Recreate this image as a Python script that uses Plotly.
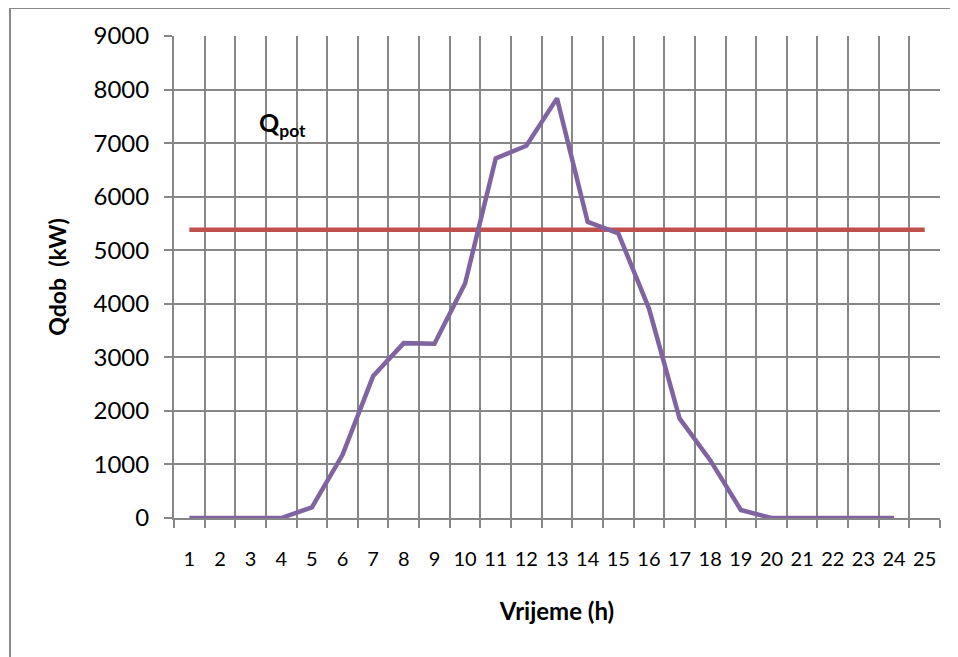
import plotly.graph_objects as go

hours = [str(h) for h in range(1, 26)]
q_dob_hours = [str(h) for h in range(1, 25)]
q_dob = [0, 0, 0, 0, 200, 1180, 2650, 3265, 3255, 4380,
         6715, 6950, 7835, 5530, 5315, 3915, 1860, 1080, 150, 0,
         0, 0, 0, 0]
q_pot_value = 5380
q_pot = [q_pot_value] * len(hours)
y_ticks = list(range(0, 9001, 1000))

grid = "#878787"

# page body has an 8px margin: figure is 950x649, offsets compensate
L, T, PW, PH = 166, 28, 766, 482
W, H = 950, 649

fig = go.Figure()
fig.add_trace(go.Scatter(x=hours, y=q_pot, mode="lines",
                         line=dict(color="#C0504D", width=4.5), showlegend=False))
fig.add_trace(go.Scatter(x=q_dob_hours, y=q_dob, mode="lines",
                         line=dict(color="#8064A2", width=4.5), showlegend=False))

fig.update_layout(
    width=W, height=H,
    margin=dict(l=L, r=W - L - PW, t=T, b=H - T - PH),
    paper_bgcolor="white", plot_bgcolor="white",
    font=dict(family="Lato, Open Sans, sans-serif", color="black"),
    xaxis=dict(
        type="category", categoryorder="array", categoryarray=hours,
        tickson="boundaries", showgrid=True, gridcolor=grid, gridwidth=2,
        showline=True, linecolor=grid, linewidth=2,
        ticks="outside", ticklen=8, tickcolor=grid, tickwidth=2,
        tickangle=0, automargin=False, ticklabelstandoff=22,
        tickfont=dict(size=20),
        title=dict(text="<b>Vrijeme (h)</b>", font=dict(size=24), standoff=34),
        range=[-0.5, 24.5], fixedrange=True,
    ),
    yaxis=dict(
        range=[0, 9000], tickvals=y_ticks, showgrid=True, gridcolor=grid, gridwidth=2,
        showline=True, linecolor=grid, linewidth=2,
        ticks="outside", ticklen=8, tickcolor=grid, tickwidth=2,
        tickfont=dict(size=24), ticklabelstandoff=10, automargin=False,
        title=dict(text="<b>Qdob  (kW)</b>", font=dict(size=23), standoff=20),
        zeroline=False,
    ),
    annotations=[dict(x=3.05, y=7350, xref="x", yref="y", showarrow=False,
                      text="<b>Q<sub>pot</sub></b>", font=dict(size=25))],
    shapes=[dict(type="rect", xref="paper", yref="paper",
                 x0=(2 - L) / PW, x1=(1000 - L) / PW,
                 y0=-(700 - T - PH) / PH, y1=(T + PH - 0) / PH,
                 line=dict(color="#8a8a8a", width=2), layer="below")],
)

fig.write_html("out.html")
